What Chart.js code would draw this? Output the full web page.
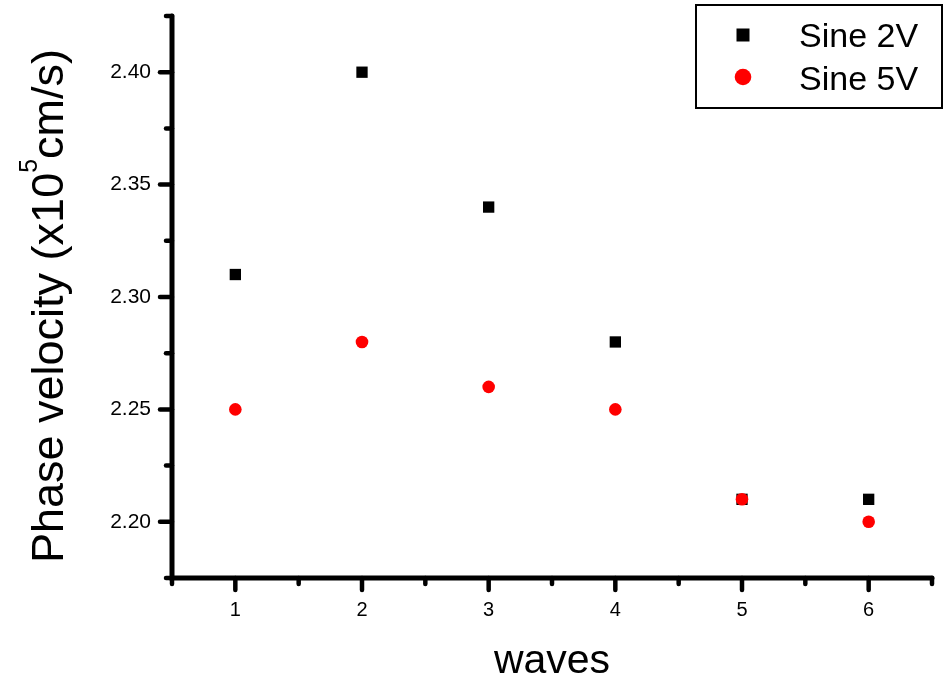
<!DOCTYPE html>
<html>
<head>
<meta charset="utf-8">
<script src="https://cdn.jsdelivr.net/npm/chart.js@4.4.1/dist/chart.umd.min.js"></script>
<style>
html,body{margin:0;padding:0;background:#fff;}
#wrap{width:945px;height:679px;position:relative;}
</style>
</head>
<body>
<div id="wrap"><canvas id="c" width="945" height="679"></canvas></div>
<script>
const waves = [1, 2, 3, 4, 5, 6];
const sine2V = [2.31, 2.40, 2.34, 2.28, 2.21, 2.21];
const sine5V = [2.25, 2.28, 2.26, 2.25, 2.21, 2.20];
const seriesNames = ['Sine 2V', 'Sine 5V'];
const xTitle = 'waves';
const yTitleMain = 'Phase velocity (x10';
const yTitleSup = '5';
const yTitleEnd = 'cm/s)';

const FONT = '"Liberation Sans", Arial, sans-serif';

function isMajorY(v){ return Math.abs(v*20 - Math.round(v*20)) < 1e-6; }
function isMajorX(v){ return Math.abs(v - Math.round(v)) < 1e-6; }

const decor = {
  id: 'decor',
  afterDraw(chart) {
    const ctx = chart.ctx;
    const ca = chart.chartArea;
    const xs = chart.scales.x, ys = chart.scales.y;
    ctx.save();
    ctx.strokeStyle = '#000';
    ctx.lineCap = 'round';
    ctx.lineWidth = 5;
    // axis lines
    ctx.beginPath();
    ctx.moveTo(ca.left, ca.top);
    ctx.lineTo(ca.left, ca.bottom);
    ctx.lineTo(ca.right, ca.bottom);
    ctx.stroke();
    // ticks
    ctx.lineWidth = 4.5;
    xs.ticks.forEach(t => {
      const px = xs.getPixelForValue(t.value);
      const len = isMajorX(t.value) ? 12 : 6;
      ctx.beginPath(); ctx.moveTo(px, ca.bottom); ctx.lineTo(px, ca.bottom + len); ctx.stroke();
    });
    ys.ticks.forEach(t => {
      const py = ys.getPixelForValue(t.value);
      const len = isMajorY(t.value) ? 12 : 6;
      ctx.beginPath(); ctx.moveTo(ca.left, py); ctx.lineTo(ca.left - len, py); ctx.stroke();
    });
    // x title
    ctx.fillStyle = '#000';
    ctx.font = '41px ' + FONT;
    ctx.textAlign = 'center';
    ctx.textBaseline = 'alphabetic';
    ctx.fillText(xTitle, (ca.left + ca.right) / 2, 673);
    // y title with superscript
    ctx.save();
    ctx.translate(63, 306);
    ctx.rotate(-Math.PI / 2);
    ctx.textAlign = 'left';
    const big = '45px ' + FONT, small = '25px ' + FONT;
    ctx.font = big; const w1 = ctx.measureText(yTitleMain).width; const w3 = ctx.measureText(yTitleEnd).width;
    ctx.font = small; const w2 = ctx.measureText(yTitleSup).width;
    let x0 = -(w1 + w2 + w3) / 2;
    ctx.font = big; ctx.fillText(yTitleMain, x0, 0); x0 += w1;
    ctx.font = small; ctx.fillText(yTitleSup, x0, -26); x0 += w2;
    ctx.font = big; ctx.fillText(yTitleEnd, x0, 0);
    ctx.restore();
    // legend
    ctx.lineWidth = 2;
    ctx.lineCap = 'butt';
    ctx.strokeRect(696, 5, 246, 103);
    ctx.fillStyle = '#000';
    ctx.fillRect(743 - 6.5, 35 - 6.5, 13, 13);
    ctx.fillStyle = '#ff0000';
    ctx.beginPath(); ctx.arc(743, 77, 8.3, 0, Math.PI * 2); ctx.fill();
    ctx.fillStyle = '#000';
    ctx.font = '34px ' + FONT;
    ctx.textAlign = 'left';
    ctx.fillText(seriesNames[0], 799, 47);
    ctx.fillText(seriesNames[1], 799, 90);
    ctx.restore();
  }
};

new Chart(document.getElementById('c'), {
  type: 'scatter',
  data: {
    datasets: [
      {
        label: seriesNames[0],
        data: waves.map((w, i) => ({x: w, y: sine2V[i]})),
        pointStyle: 'rect',
        pointRadius: 8,
        backgroundColor: '#000',
        borderWidth: 0,
        order: 1
      },
      {
        label: seriesNames[1],
        data: waves.map((w, i) => ({x: w, y: sine5V[i]})),
        pointStyle: 'circle',
        pointRadius: 6.3,
        backgroundColor: '#ff0000',
        borderWidth: 0,
        order: 0
      }
    ]
  },
  options: {
    responsive: false,
    animation: false,
    layout: { autoPadding: false, padding: { top: 16, right: 13, left: 0, bottom: 0 } },
    plugins: { legend: { display: false }, tooltip: { enabled: false } },
    scales: {
      x: {
        type: 'linear',
        min: 0.5, max: 6.5,
        grid: { display: false },
        border: { display: false },
        ticks: {
          stepSize: 0.5,
          autoSkip: false,
          maxRotation: 0,
          padding: 12,
          color: '#000',
          font: { family: FONT, size: 20 },
          callback: v => isMajorX(v) ? String(Math.round(v)) : ''
        },
        afterFit: s => { s.height = 101; s.paddingLeft = 0; s.paddingRight = 0; s.paddingTop = 0; s.paddingBottom = 0; }
      },
      y: {
        type: 'linear',
        min: 2.175, max: 2.425,
        grid: { display: false },
        border: { display: false },
        ticks: {
          stepSize: 0.025,
          autoSkip: false,
          padding: 13,
          color: '#000',
          font: { family: FONT, size: 21 },
          callback: v => isMajorY(v) ? v.toFixed(2) : ''
        },
        afterFit: s => { s.width = 172; s.paddingLeft = 0; s.paddingRight = 0; s.paddingTop = 0; s.paddingBottom = 0; }
      }
    }
  },
  plugins: [decor]
});
</script>
</body>
</html>
